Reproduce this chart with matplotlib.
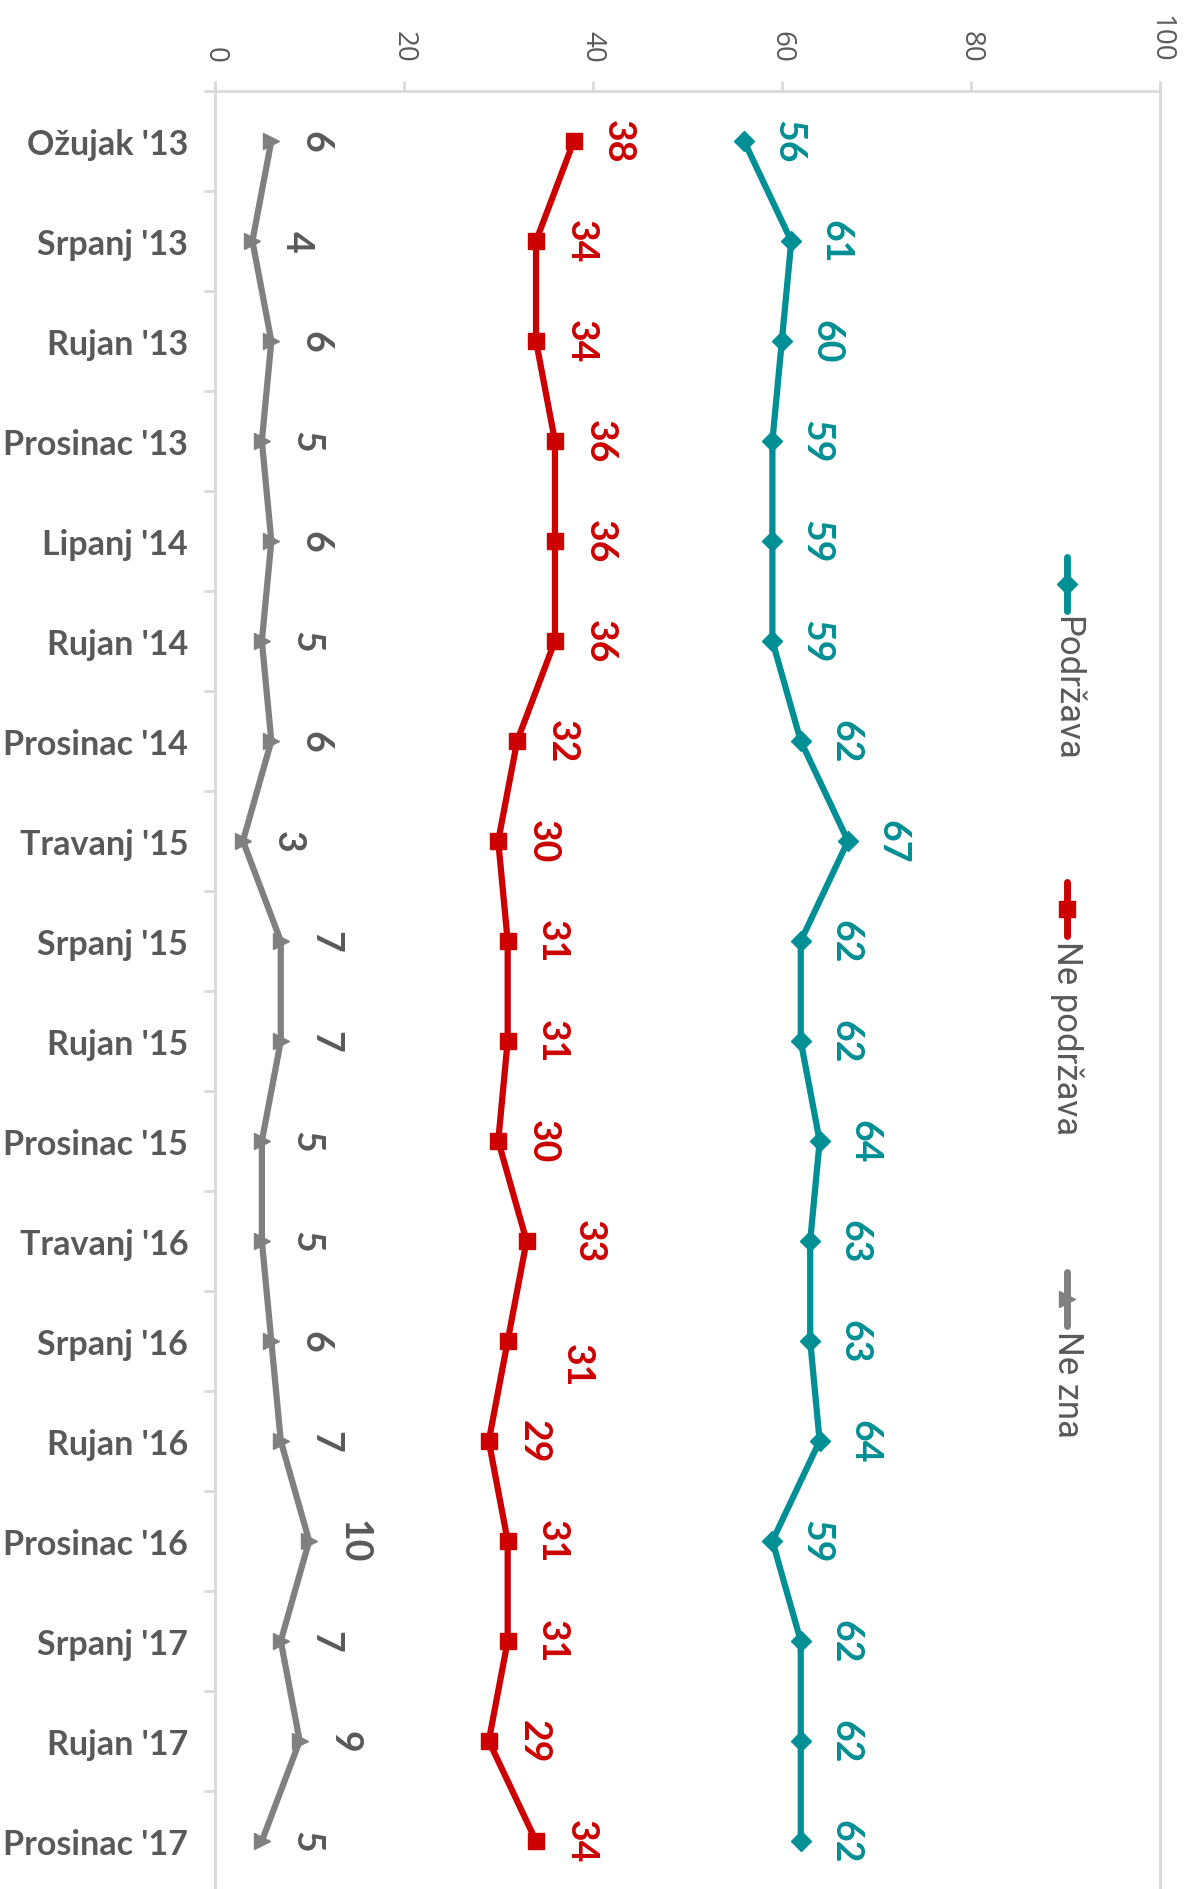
import matplotlib.pyplot as plt
from matplotlib.lines import Line2D

categories = ["Ožujak '13", "Srpanj '13", "Rujan '13", "Prosinac '13", "Lipanj '14",
              "Rujan '14", "Prosinac '14", "Travanj '15", "Srpanj '15", "Rujan '15",
              "Prosinac '15", "Travanj '16", "Srpanj '16", "Rujan '16", "Prosinac '16",
              "Srpanj '17", "Rujan '17", "Prosinac '17"]
podrzava = [56, 61, 60, 59, 59, 59, 62, 67, 62, 62, 64, 63, 63, 64, 59, 62, 62, 62]
ne_podrzava = [38, 34, 34, 36, 36, 36, 32, 30, 31, 31, 30, 33, 31, 29, 31, 31, 29, 34]
ne_zna = [6, 4, 6, 5, 6, 5, 6, 3, 7, 7, 5, 5, 6, 7, 10, 7, 9, 5]
series_names = ['Podržava', 'Ne podržava', 'Ne zna']

teal = '#008f94'
red = '#cc0000'
gray = '#808080'
txt = '#595959'
axcol = '#d9d9d9'

W, H = 1184, 1890
fig = plt.figure(figsize=(W / 100, H / 100), dpi=100)
ax = fig.add_axes([214.6 / W, -2 / H, (1160 - 214.6) / W, (1892 - 92) / H])

y = list(range(len(categories)))
series = [(podrzava, teal, 'D', 10), (ne_podrzava, red, 's', 12), (ne_zna, gray, '>', 12)]
for vals, col, mk, ms in series:
    ax.plot(vals, y, color=col, lw=4.5, marker=mk, ms=ms, solid_joinstyle='round')

# label placement tweaks (index -> (dx, dy))
tweak_red = {11: (1.9, 0), 12: (2.6, 0.24)}
lab_font = dict(family=['Lato', 'DejaVu Sans'], weight='bold', fontsize=27,
                rotation=270, ha='center', va='center')
for i, v in enumerate(podrzava):
    ax.text(v + 4.7, i, str(v), color=teal, **lab_font)
for i, v in enumerate(ne_podrzava):
    dx, dy = tweak_red.get(i, (0, 0))
    ax.text(v + 4.7 + dx, i + dy, str(v), color=red, **lab_font)
for i, v in enumerate(ne_zna):
    ax.text(v + 4.7, i, str(v), color=txt, **lab_font)

ax.set_xlim(0, 100)
ax.set_ylim(len(categories) - 0.5, -0.5)
ax.xaxis.tick_top()
ax.set_xticks(range(0, 101, 20))
ax.set_xticklabels([str(t) for t in range(0, 101, 20)], rotation=270,
                   fontsize=20, color=txt, family='Open Sans')
ax.tick_params(axis='x', length=7, width=2, color=axcol, pad=14)
ax.set_yticks(y)
ax.set_yticklabels(categories, fontsize=24.5, color=txt, family='Lato', weight='bold')
ax.set_yticks([i + 0.5 for i in range(-1, len(categories))], minor=True)
ax.tick_params(axis='y', which='major', length=0, pad=19)
ax.tick_params(axis='y', which='minor', length=8, width=2, color=axcol)
for s in ['top', 'left', 'right']:
    ax.spines[s].set_color(axcol)
    ax.spines[s].set_linewidth(2)
ax.spines['bottom'].set_visible(False)

# rotated legend
leg_pos = [585, 910, 1300]
for (vals, col, mk, ms), name, yc in zip(series, series_names, leg_pos):
    x = 1067 / W
    fig.add_artist(Line2D([x, x], [1 - (yc - 27) / H, 1 - (yc + 27) / H], color=col,
                          lw=5, solid_capstyle='round', transform=fig.transFigure))
    fig.add_artist(Line2D([x], [1 - yc / H], color=col, marker=mk, ms=ms,
                          transform=fig.transFigure))
    fig.text(x, 1 - (yc + 31) / H, name, rotation=270, ha='center', va='top',
             fontsize=25, color=txt, family=['Liberation Sans Narrow', 'Roboto'])

fig.savefig('out.png', dpi=100)
